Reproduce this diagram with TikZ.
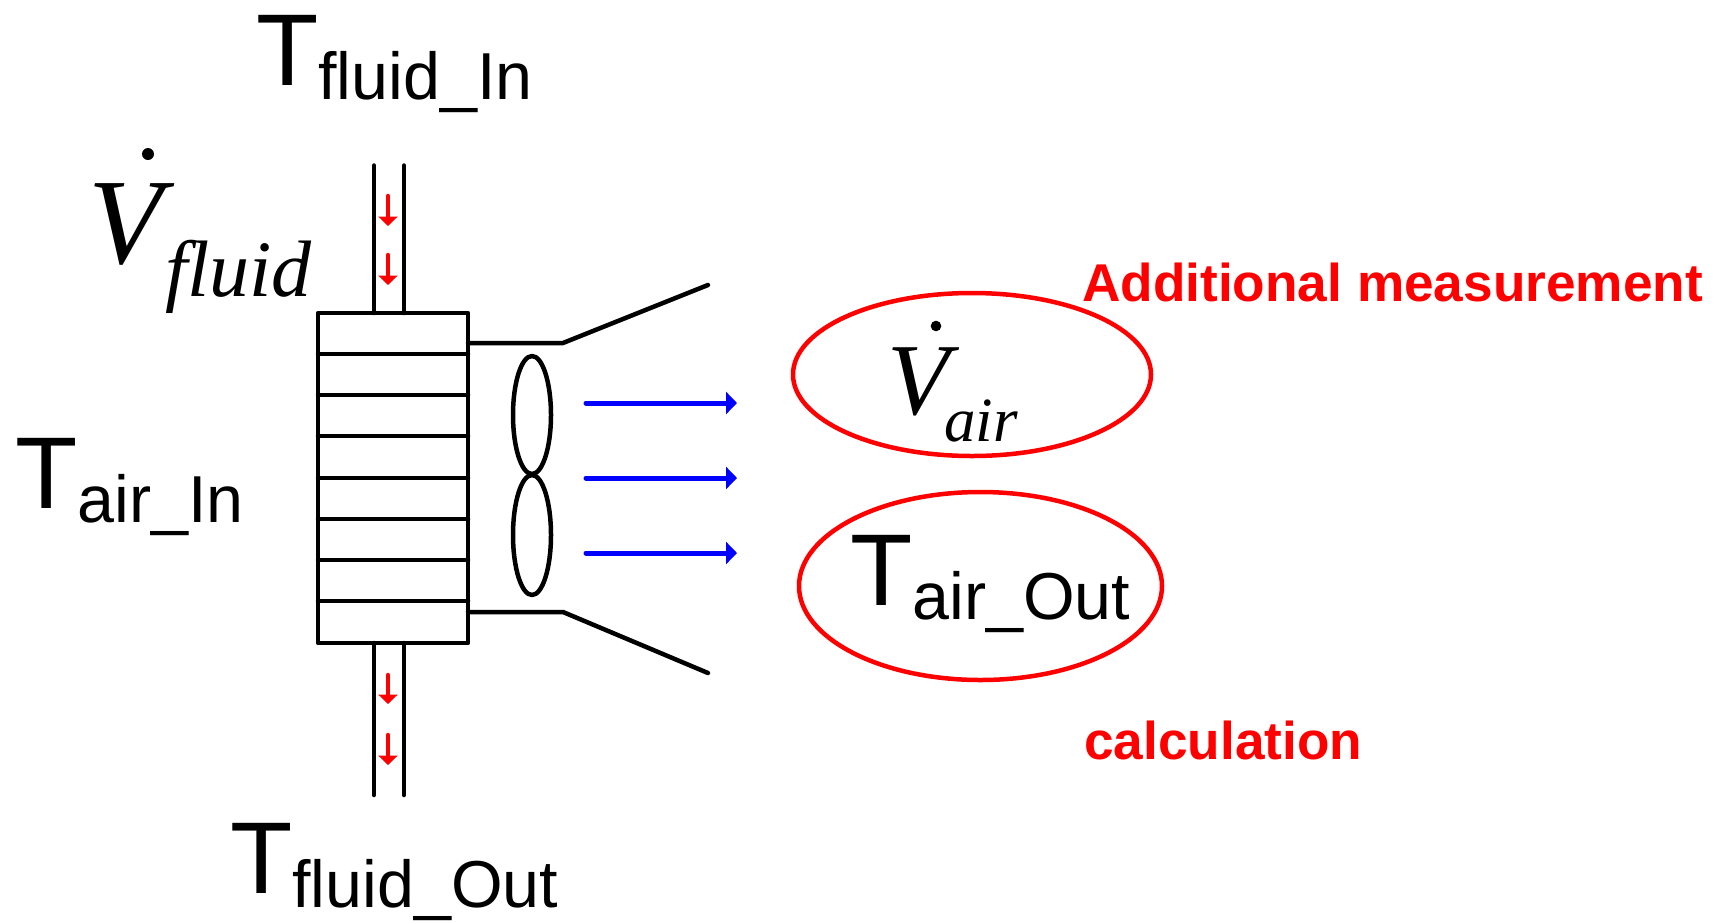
\documentclass[tikz,border=0pt]{standalone}
\usepackage{fontspec}
\setmainfont{Liberation Sans}
\newfontfamily\tnr{Liberation Serif}
\usetikzlibrary{arrows.meta}
\tikzset{
 px/.style={x=1pt,y=-1pt},
 ln/.style={line width=4.5pt,black,line cap=round,line join=round},
 lab/.style={inner sep=0pt,anchor=base west,text=black},
 red note/.style={inner sep=0pt,anchor=base west,text=red,font=\bfseries\fontsize{53.2}{53.2}\selectfont},
 ring/.style={draw=red,line width=4.5pt},
 flow/.style={draw=blue,line width=5pt,line cap=round,-{Triangle[length=11pt,width=22pt]}},
 drip/.style={draw=red,line width=4.5pt,line cap=round,-{Triangle[length=9.5pt,width=19pt]}},
}
\newcommand{\biglab}[2]{{\fontsize{102}{102}\selectfont #1}\raisebox{-14.5pt}{\fontsize{66.4}{66.4}\selectfont #2}}
\begin{document}
\begin{tikzpicture}[px]
\useasboundingbox (0,0) rectangle (1720,922);
\draw[ln] (374,165.5) -- (374,313) (404,165.5) -- (404,313);
\draw[ln] (374,643) -- (374,795) (404,643) -- (404,795);
\foreach \yy in {354,395,436,478,519,560,601}{\draw[ln] (318,\yy) -- (468,\yy);}
\draw[ln] (318,313) rectangle (468,643);
\draw[ln] (468,343) -- (563,343) -- (708,285);
\draw[ln] (468,612) -- (563,612) -- (708,673);
\draw[ln] (532,415) ellipse (19 and 59);
\draw[ln] (532,535) ellipse (19 and 60);
\coordinate (f1s) at (586,403); \coordinate (f1e) at (737,403);
\coordinate (f2s) at (586,478); \coordinate (f2e) at (737,478);
\coordinate (f3s) at (586,553); \coordinate (f3e) at (737,553);
\draw[flow] (f1s) -- (f1e);
\draw[flow] (f2s) -- (f2e);
\draw[flow] (f3s) -- (f3e);
\foreach \a/\b/\c in {388/196/226,388/255/285,388/675/704,388/735/765}{\draw[drip] (\a,\b) -- (\a,\c);}
\draw[ring] (972,374.5) ellipse (179 and 81.5);
\draw[ring] (980.5,586) ellipse (181.5 and 94);
\node[lab] (t1) at (256,85) {\biglab{T}{fluid\_In}};
\node[lab] (t2) at (15,508) {\biglab{T}{air\_In}};
\node[lab] (t3) at (230,893) {\biglab{T}{fluid\_Out}};
\node[lab] (t4) at (850,605) {\biglab{T}{air\_Out}};
\node[red note] (n1) at (1082,301) {Additional measurement};
\node[red note] (n2) at (1084,759) {calculation};
\node[lab,font=\tnr\itshape\fontsize{122}{122}\selectfont] (v1) at (88,263) {V};
\node[lab,font=\tnr\itshape\fontsize{80}{80}\selectfont] (v1s) at (165,296) {fluid};
\fill (148,154) circle (6);
\node[lab,font=\tnr\itshape\fontsize{102}{102}\selectfont] (v2) at (887,414) {V};
\node[lab,font=\tnr\itshape\fontsize{63}{63}\selectfont] (v2s) at (944,441) {air};
\fill (936,326) circle (5.3);
\end{tikzpicture}
\end{document}
